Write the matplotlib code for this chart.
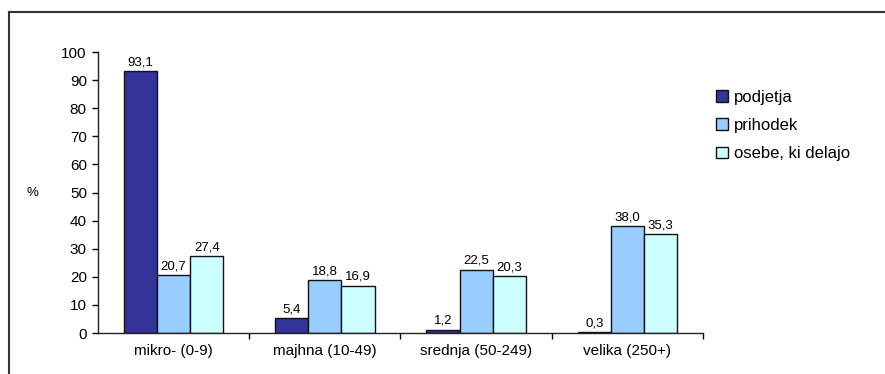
import matplotlib.pyplot as plt
import numpy as np
from matplotlib.lines import Line2D

plt.rcParams['font.family'] = ['Liberation Sans', 'DejaVu Sans']

# podatki po velikosti podjetij (delež v %)
categories = ['mikro- (0-9)', 'majhna (10-49)', 'srednja (50-249)', 'velika (250+)']
podjetja = [93.1, 5.4, 1.2, 0.3]
prihodek = [20.7, 18.8, 22.5, 38.0]
osebe = [27.4, 16.9, 20.3, 35.3]

series = [('podjetja', podjetja, '#333399'),
          ('prihodek', prihodek, '#99CCFF'),
          ('osebe, ki delajo', osebe, '#CCFFFF')]

fig = plt.figure(figsize=(8.85, 3.74), dpi=100)
ax = fig.add_axes([0.1107, 0.1096, 0.6836, 0.7513])

x = np.arange(len(categories))
w = 0.219
for i, (name, vals, col) in enumerate(series):
    pos = x + (i - 1) * w
    ax.bar(pos, vals, width=w, color=col, edgecolor='#111111', linewidth=1.0, label=name)
    for px, v in zip(pos, vals):
        ax.text(px, v + 1.0, f'{v:.1f}'.replace('.', ','), ha='center', va='bottom', fontsize=9.5)

ax.set_xlim(-0.5, 3.5)
ax.set_ylim(0, 100)
ax.set_yticks(range(0, 101, 10))
ax.tick_params(axis='y', labelsize=11, length=4, width=1, direction='out', pad=4)

# kategorije na sredini, kljukice na mejah
ax.set_xticks([0.5, 1.5, 2.5, 3.5])
ax.set_xticklabels([])
ax.set_xticks(x, minor=True)
ax.set_xticklabels(categories, minor=True, fontsize=11)
ax.tick_params(axis='x', which='major', length=4, width=1, direction='out')
ax.tick_params(axis='x', which='minor', length=0, pad=8)

for s in ['top', 'right']:
    ax.spines[s].set_visible(False)
for s in ['left', 'bottom']:
    ax.spines[s].set_linewidth(1.0)
    ax.spines[s].set_color('#222222')

fig.text(0.037, 0.484, '%', fontsize=9.5, ha='center', va='center')

handles = [plt.Rectangle((0, 0), 1, 1, facecolor=c, edgecolor='#111111', linewidth=1.0)
           for _, _, c in series]
fig.legend(handles, [n for n, _, _ in series], loc='upper left',
           bbox_to_anchor=(0.7925, 0.8), frameon=False, fontsize=12,
           handlelength=0.7, handleheight=0.7, handletextpad=0.35, labelspacing=0.8)

# okvir grafikona
fig.add_artist(Line2D([0.0102, 1.0], [0.967, 0.967], transform=fig.transFigure,
                      color='#333333', linewidth=1.5))
fig.add_artist(Line2D([0.0102, 0.0102], [0.967, 0.0], transform=fig.transFigure,
                      color='#333333', linewidth=1.5))

fig.savefig('out.png', dpi=100)
